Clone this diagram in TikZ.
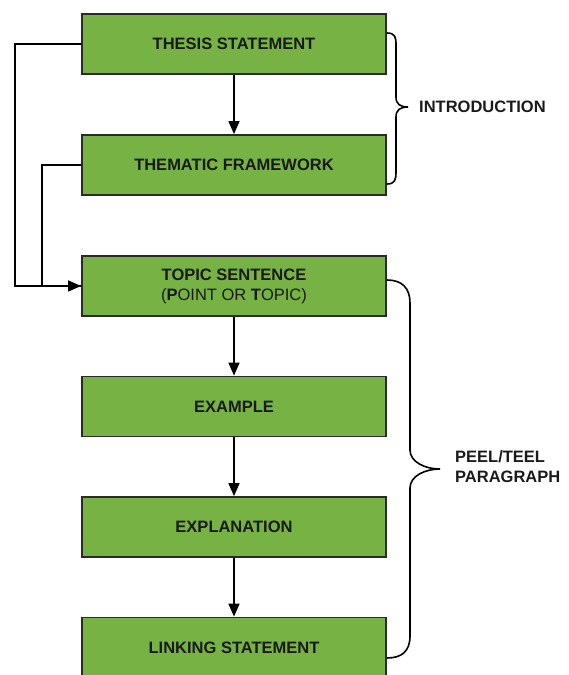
\documentclass[tikz,border=0pt]{standalone}
\usepackage{fontspec}
\setmainfont{Liberation Sans}
\usetikzlibrary{arrows.meta}
\definecolor{boxgreen}{HTML}{77B244}
\definecolor{boxline}{HTML}{2A2A2A}
\definecolor{txt}{HTML}{1A1A1A}
\begin{document}
\begin{tikzpicture}[x=1pt,y=-1pt,
  stepbox/.style={draw=boxline,line width=1.8pt,fill=boxgreen,minimum width=304pt,minimum height=60pt,
    inner sep=0pt,align=center,text=txt,font=\fontsize{16.5}{20}\selectfont\bfseries},
  conn/.style={draw=black,line width=1.6pt},
  arr/.style={conn,-{Triangle[length=13pt,width=11pt]}},
  brace/.style={draw=black,line width=1.6pt},
  lbl/.style={anchor=west,align=left,inner sep=0pt,text=txt,font=\fontsize{16.5}{20}\selectfont\bfseries}]
\useasboundingbox (0,0) rectangle (569,675);
\node[stepbox] (b1) at (234,44) {THESIS STATEMENT};
\node[stepbox] (b2) at (234,165) {THEMATIC FRAMEWORK};
\node[stepbox] (b3) at (234,286) {TOPIC SENTENCE\\{\mdseries(}P{\mdseries OINT OR }T{\mdseries OPIC)}};
\node[stepbox] (b4) at (234,406.5) {EXAMPLE};
\node[stepbox] (b5) at (234,527) {EXPLANATION};
\node[stepbox] (b6) at (234,647.5) {LINKING STATEMENT};
\draw[arr] (b1) -- (b2);
\draw[arr] (b3) -- (b4);
\draw[arr] (b4) -- (b5);
\draw[arr] (b5) -- (b6);
\draw[conn] (b2.west) -- ++(-39,0) |- (b3.west);
\draw[arr] (b1.west) -- ++(-66,0) |- (b3.west);
% introduction brace
\draw[brace] (387,33) .. controls (395,33) and (396,37) .. (396,45) -- (396,97)
  .. controls (396,104) and (400,107) .. (408,107)
  .. controls (400,107) and (396,110) .. (396,117) -- (396,171)
  .. controls (396,180) and (395,184) .. (387,184);
\node[lbl] (intro) at (419,107) {INTRODUCTION};
% peel brace
\draw[brace] (387,280) .. controls (402,280) and (410,288) .. (410,303) -- (410,450)
  .. controls (410,462) and (425,469) .. (440,469)
  .. controls (425,469) and (410,476) .. (410,488) -- (410,636)
  .. controls (410,651) and (402,658) .. (387,658);
\node[lbl] (peel) at (455,467) {PEEL/TEEL\\PARAGRAPH};
\end{tikzpicture}
\end{document}
